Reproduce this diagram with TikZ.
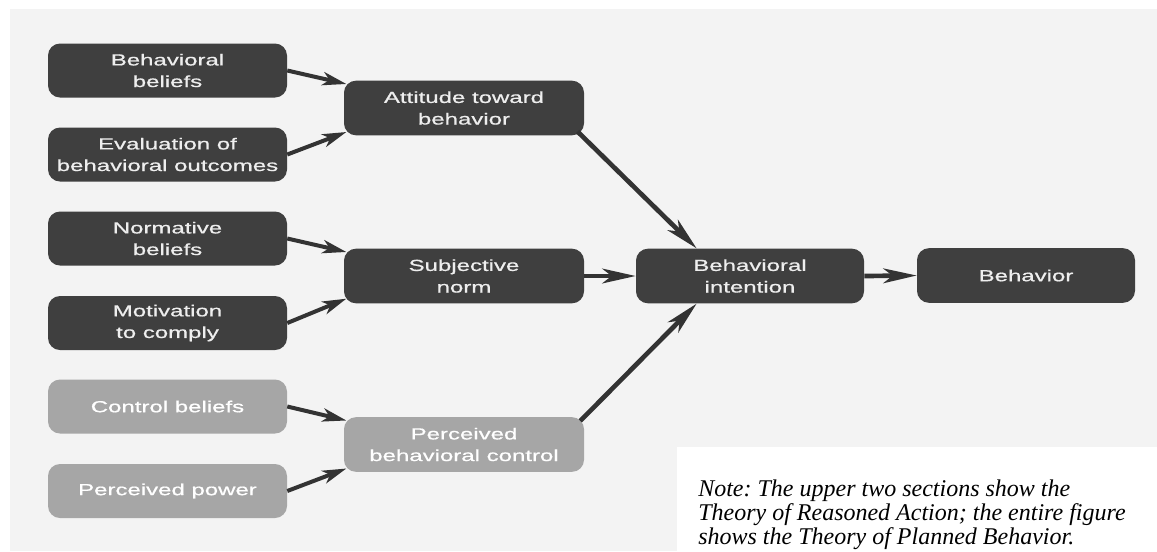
\documentclass[tikz,border=0pt]{standalone}
\usepackage{fontspec}
\usepackage[dvipsnames]{xcolor}
\usepackage{tikz}
\usetikzlibrary{arrows.meta}

\newfontfamily\boxfont{Liberation Sans}[FakeStretch=1.5,FakeBold=0.8]
\newfontfamily\notefont{Liberation Serif}
\definecolor{boxdark}{HTML}{3F3F3F}
\definecolor{boxlight}{HTML}{A6A6A6}
\definecolor{boxtext}{HTML}{EEEEEE}
\definecolor{panel}{HTML}{F3F3F3}
\definecolor{arrowdark}{HTML}{333333}

\tikzset{
	darkbox/.style={shape=rectangle,rounded corners=9pt,fill=boxdark,text=boxtext,align=center,minimum width=179.25pt,minimum height=40.5pt,inner sep=2pt,font=\boxfont\fontsize{12}{16.2}\selectfont},
	lightbox/.style={darkbox,fill=boxlight,text=white},
	midbox/.style={minimum width=180pt,minimum height=41pt},
	arr/.style={arrowdark,line width=3pt,-{Stealth[length=18pt,width=10pt,inset=5pt]}},
	longarr/.style={arr,line width=3.5pt,-{Stealth[length=25pt,width=11pt,inset=7pt]}}
}

\begin{document}
\begin{tikzpicture}[x=0.75pt,y=-0.75pt]
	
	\useasboundingbox (0,0) rectangle (1157,551);
	\fill[panel] (10,9) rectangle (1157,551);
	\fill[white] (677,447) rectangle (1157,551);
	
	\node[darkbox] (0) at (167.5,70.5) {Behavioral\\beliefs};
	\node[darkbox] (1) at (167.5,154.5) {Evaluation of\\behavioral outcomes};
	\node[darkbox] (2) at (167.5,238.5) {Normative\\beliefs};
	\node[darkbox] (3) at (167.5,323) {Motivation\\to comply};
	\node[lightbox] (4) at (167.5,406.5) {Control beliefs};
	\node[lightbox] (5) at (167.5,491) {Perceived power};
	
	\node[darkbox,midbox] (6) at (464,108) {Attitude toward\\behavior};
	\node[darkbox,midbox] (7) at (464,276) {Subjective\\norm};
	\node[lightbox,midbox] (8) at (464,444.5) {Perceived\\behavioral control};
	
	\node[darkbox,minimum width=171pt,minimum height=41pt] (9) at (750,276) {Behavioral\\intention};
	\node[darkbox,minimum width=163.5pt,minimum height=41pt] (10) at (1026,275.5) {Behavior};
	
	\node[anchor=north west,inner sep=0pt,align=left,font=\notefont\itshape\fontsize{18}{18}\selectfont\frenchspacing] (11) at (698,480) {Note: The upper two sections show the\\Theory of Reasoned Action; the entire figure\\shows the Theory of Planned Behavior.};
	
	
	\path [arr] (0.east) edge ([xshift=2pt,yshift=18pt]6.west);
	\path [arr] (1.east) edge ([xshift=2pt,yshift=-18pt]6.west);
	\path [arr] (2.east) edge ([xshift=2pt,yshift=18pt]7.west);
	\path [arr] (3.east) edge ([xshift=2pt,yshift=-17pt]7.west);
	\path [arr] (4.east) edge ([xshift=2pt,yshift=18pt]8.west);
	\path [arr] (5.east) edge ([xshift=2pt,yshift=-18pt]8.west);
	
	\path [longarr] ([xshift=-5pt,yshift=3pt]6.south east) edge ([xshift=-40pt]9.north);
	\path [longarr] (7.east) edge (9.west);
	\path [longarr] ([xshift=-3pt,yshift=-3pt]8.north east) edge ([xshift=-40pt]9.south);
	\path [longarr] (9.east) edge (10.west);
	
\end{tikzpicture}
\end{document}
